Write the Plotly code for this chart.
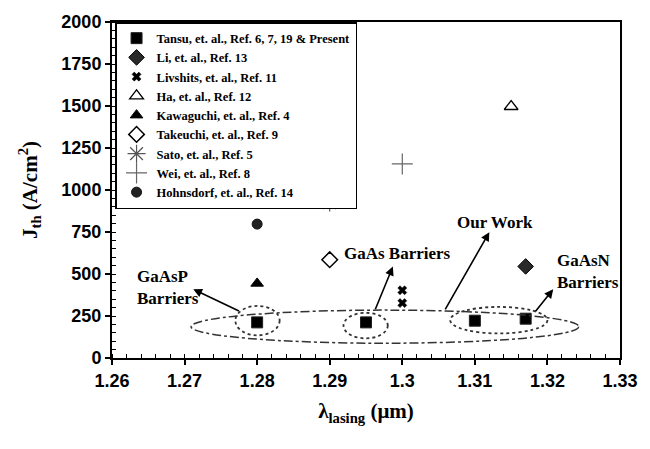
import plotly.graph_objects as go

# ---------------- data ----------------
tansu_x = [1.280, 1.295, 1.310, 1.317]
tansu_y = [212, 212, 222, 234]
li_x = [1.317]
li_y = [545]
livshits_x = [1.300, 1.300]
livshits_y = [403, 327]
ha_x = [1.315]
ha_y = [1497]
kawaguchi_x = [1.280]
kawaguchi_y = [444]
takeuchi_x = [1.290]
takeuchi_y = [585]
sato_x = [1.290]
sato_y = [925]
wei_x = [1.300]
wei_y = [1155]
hohnsdorf_x = [1.280]
hohnsdorf_y = [797]

series_names = [
    "Tansu, et. al., Ref. 6, 7, 19 & Present",
    "Li, et. al., Ref. 13",
    "Livshits, et. al., Ref. 11",
    "Ha, et. al., Ref. 12",
    "Kawaguchi, et. al., Ref. 4",
    "Takeuchi, et. al., Ref. 9",
    "Sato, et. al., Ref. 5",
    "Wei, et. al., Ref. 8",
    "Hohnsdorf, et. al., Ref. 14",
]

x_ticks = [1.26, 1.27, 1.28, 1.29, 1.30, 1.31, 1.32, 1.33]
x_tick_labels = ["1.26", "1.27", "1.28", "1.29", "1.3", "1.31", "1.32", "1.33"]
y_ticks = [0, 250, 500, 750, 1000, 1250, 1500, 1750, 2000]

# annotation regions (ellipses): x0, x1, y0, y1
big_region = [1.2709, 1.3243, 88, 285]
dotted_regions = [
    [1.2770, 1.2831, 135, 310],
    [1.2919, 1.2980, 117, 269],
    [1.3066, 1.3200, 146, 304],
]
# arrows: (tail x, tail y, head x, head y)
arrows = [
    (1.2777, 275, 1.2712, 409),
    (1.2962, 281, 1.2987, 544),
    (1.3058, 281, 1.3120, 749),
    (1.3182, 269, 1.3208, 409),
]
# labels: text, x, y, anchor
labels = [
    ("GaAsP<br>Barriers", 1.2632, 421, "left"),
    ("GaAs Barriers", 1.2993, 621, "center"),
    ("Our Work", 1.3128, 807, "center"),
    ("GaAsN<br>Barriers", 1.3211, 516, "left"),
]

SERIF = "Liberation Serif"
SANS = "Liberation Sans"

fig = go.Figure()

def add(name, xs, ys, symbol, size, color="black", lw=1, lc="black"):
    fig.add_trace(go.Scatter(
        x=xs, y=ys, mode="markers", name=name,
        marker=dict(symbol=symbol, size=size, color=color,
                    line=dict(width=lw, color=lc)),
    ))

add(series_names[0], tansu_x, tansu_y, "square", 11, "black", 1, "#222")
add(series_names[1], li_x, li_y, "diamond", 12, "#2a2a2a", 1, "black")
add(series_names[2], livshits_x, livshits_y, "x", 8, "black", 0.5, "black")
add(series_names[3], ha_x, ha_y, "triangle-up-open", 12, "black", 1.3, "black")
add(series_names[4], kawaguchi_x, kawaguchi_y, "triangle-up", 11, "black", 1, "black")
add(series_names[5], takeuchi_x, takeuchi_y, "diamond-open", 12, "black", 1.5, "black")
add(series_names[6], sato_x, sato_y, "asterisk-open", 15, "#555", 1.2, "#444")
add(series_names[7], wei_x, wei_y, "cross-thin-open", 15, "#666", 1.2, "#555")
add(series_names[8], hohnsdorf_x, hohnsdorf_y, "circle", 10, "#222", 1, "#111")

shapes = []
shapes.append(dict(type="circle", xref="x", yref="y",
                   x0=big_region[0], x1=big_region[1], y0=big_region[2], y1=big_region[3],
                   line=dict(color="#333", width=1.5, dash="dashdot")))
for r in dotted_regions:
    shapes.append(dict(type="circle", xref="x", yref="y",
                       x0=r[0], x1=r[1], y0=r[2], y1=r[3],
                       line=dict(color="#333", width=1.8, dash="dot")))

annotations = []
for tx, ty, hx, hy in arrows:
    annotations.append(dict(x=hx, y=hy, ax=tx, ay=ty, xref="x", yref="y",
                            axref="x", ayref="y", text="", showarrow=True,
                            arrowhead=2, arrowsize=1.1, arrowwidth=1.6,
                            arrowcolor="black"))
for text, x, y, anc in labels:
    annotations.append(dict(x=x, y=y, xref="x", yref="y", text=text,
                            showarrow=False, xanchor=anc, yanchor="middle",
                            align="left",
                            font=dict(family=SERIF, size=17, color="black", weight="bold")))

tick_font = dict(family=SANS, size=18, color="black", weight="bold")

fig.update_layout(
    width=650, height=449,
    margin=dict(l=112, r=20, t=16, b=91),
    paper_bgcolor="white", plot_bgcolor="white",
    shapes=shapes, annotations=annotations,
    showlegend=True,
    legend=dict(x=0.006, y=1.0, xanchor="left", yanchor="top",
                bgcolor="white", bordercolor="black", borderwidth=1.5,
                font=dict(family=SERIF, size=12.5, color="black", weight="bold"),
                itemwidth=30, tracegroupgap=0, entrywidth=275, entrywidthmode="pixels"),
    xaxis=dict(range=[1.26, 1.33], tickvals=x_ticks, ticktext=x_tick_labels,
               ticks="outside", ticklen=5, tickwidth=1.5, tickcolor="black",
               minor=dict(dtick=0.002, ticks="inside", ticklen=4, tickwidth=1.2,
                          tickcolor="black", tick0=1.26),
               showline=True, linecolor="black", linewidth=2, mirror=True,
               showgrid=False, zeroline=False, tickfont=tick_font,
               title=dict(text="λ<sub>lasing</sub> (μm)", standoff=14,
                          font=dict(family=SERIF, size=21, color="black", weight="bold"))),
    yaxis=dict(range=[0, 2000], tickvals=y_ticks,
               ticks="outside", ticklen=5, tickwidth=1.5, tickcolor="black",
               minor=dict(dtick=50, ticks="inside", ticklen=4, tickwidth=1.2,
                          tickcolor="black"),
               showline=True, linecolor="black", linewidth=2, mirror=True,
               showgrid=False, zeroline=False, tickfont=tick_font,
               title=dict(text="J<sub>th</sub> (A/cm<sup>2</sup>)", standoff=18,
                          font=dict(family=SERIF, size=21, color="black", weight="bold"))),
    xaxis2=dict(overlaying="x", anchor="y", side="bottom", range=[1.26, 1.33],
                tickvals=x_ticks, showticklabels=False, ticks="inside", ticklen=5,
                tickwidth=1.5, tickcolor="black", showgrid=False, zeroline=False,
                showline=False),
    yaxis2=dict(overlaying="y", anchor="x", side="left", range=[0, 2000],
                tickvals=y_ticks, showticklabels=False, ticks="inside", ticklen=5,
                tickwidth=1.5, tickcolor="black", showgrid=False, zeroline=False,
                showline=False),
)

fig.write_html("out.html")
